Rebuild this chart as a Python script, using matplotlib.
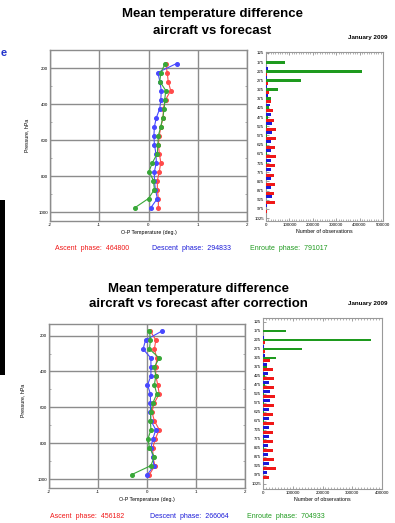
import matplotlib
matplotlib.use("Agg")
import matplotlib.pyplot as plt
from matplotlib.patches import Rectangle
from matplotlib.ticker import MultipleLocator

W, H = 395, 523

# profile levels (hPa) and bar-chart levels (hPa)
prof_levels = [175, 225, 275, 325, 375, 425, 475, 525, 575, 625, 675, 725, 775, 825, 875, 925, 975]
bar_levels = [125, 175, 225, 275, 325, 375, 425, 475, 525, 575, 625, 675, 725, 775, 825, 875, 925, 975, 1025]
bar_labels = ["125", "175", "225", "275", "325", "375", "425", "475", "525", "575",
              "625", "675", "725", "775", "825", "875", "925", "975", "1025"]

# mean O-P temperature, before correction
asc_before = [0.35, 0.38, 0.40, 0.45, 0.35, 0.30, 0.30, 0.25, 0.22, 0.20, 0.22, 0.25, 0.22, 0.18, 0.18, 0.20, 0.20]
desc_before = [0.57, 0.19, 0.23, 0.26, 0.25, 0.23, 0.16, 0.12, 0.11, 0.12, 0.15, 0.16, 0.12, 0.12, 0.14, 0.18, 0.05]
enr_before = [0.34, 0.25, 0.23, 0.35, 0.33, 0.32, 0.29, 0.25, 0.20, 0.19, 0.18, 0.08, 0.01, 0.10, 0.12, 0.00, -0.27]

# mean O-P temperature, after correction
asc_after = [0.07, 0.18, 0.15, 0.20, 0.18, 0.18, 0.22, 0.25, 0.15, 0.10, 0.15, 0.25, 0.17, 0.12, 0.12, 0.16, 0.05]
desc_after = [0.30, -0.03, -0.08, 0.08, 0.08, 0.08, 0.01, 0.07, 0.07, 0.07, 0.08, 0.18, 0.12, 0.08, 0.12, 0.14, 0.01]
enr_after = [0.05, 0.07, 0.05, 0.25, 0.15, 0.18, 0.15, 0.20, 0.12, 0.08, 0.07, 0.08, 0.02, 0.05, 0.15, 0.08, -0.31]

# number of observations per level
asc_n_before = [0, 1000, 5000, 8000, 12000, 20000, 28000, 33000, 41000, 43000, 38000, 41000, 39000, 36000, 37000, 35000, 38000, 3000, 0]
desc_n_before = [0, 500, 9000, 4000, 6000, 10000, 16000, 20000, 24000, 24000, 22000, 23000, 22000, 22000, 21000, 20000, 24000, 3000, 0]
enr_n_before = [0, 80000, 411000, 148000, 51000, 22000, 12000, 7000, 5000, 4000, 3000, 3000, 2500, 2000, 2000, 2000, 1500, 500, 0]

asc_n_after = [0, 1000, 6000, 6000, 24000, 34000, 36000, 38000, 40000, 38000, 35000, 36000, 33000, 32000, 33000, 36000, 44000, 20000, 0]
desc_n_after = [0, 500, 5000, 4000, 8000, 14000, 18000, 20000, 22000, 22000, 20000, 20000, 19000, 19000, 18000, 18000, 19000, 12000, 0]
enr_n_after = [0, 77000, 363000, 131000, 44000, 12000, 8000, 6000, 4000, 3000, 3000, 2500, 2000, 2000, 2000, 1500, 1500, 500, 0]

totals_before = ["464800", "294833", "791017"]
totals_after = ["456182", "266064", "704933"]

RED, BLUE, GREEN = "#f01818", "#1a1ad8", "#1e9a1e"
LRED, LBLUE, LGREEN = "#ff4a4a", "#4848ff", "#38a838"
GRID = "#8c8c8c"


def box(l, t, r, b):
    return [l / W, 1 - b / H, (r - l) / W, (b - t) / H]


def profile(ax, asc, desc, enr, ylim):
    for vals, c in [(asc, LRED), (desc, LBLUE), (enr, LGREEN)]:
        ax.plot(vals, prof_levels, color=c, lw=0.8, marker="o", ms=2.6, zorder=3)
    ax.set_xlim(-2, 2)
    ax.set_ylim(*ylim)
    ax.set_xticks([-2, -1, 0, 1, 2])
    ax.set_xticklabels(["-2", "-1", "0", "1", "2"])
    ax.set_yticks([200, 400, 600, 800, 1000])
    ax.yaxis.set_minor_locator(MultipleLocator(100))
    ax.grid(True, color=GRID, lw=1.0)
    ax.tick_params(labelsize=3.2, length=2, width=0.5, color=GRID, pad=1.5,
                   direction="in", right=True)
    ax.tick_params(which="minor", length=1.5, width=0.5, color=GRID, direction="in", right=True)
    ax.tick_params(axis="x", length=0)
    for s in ax.spines.values():
        s.set_color(GRID)
        s.set_linewidth(1.0)
    ax.set_xlabel("O-P Temperature (deg.)", fontsize=3.8, labelpad=2)


def counts(ax, asc, desc, enr, xmax, ylim):
    h = 16
    ax.barh([l - h for l in bar_levels], desc, height=h, color=BLUE, zorder=3)
    ax.barh(bar_levels, enr, height=h, color=GREEN, zorder=3)
    ax.barh([l + h for l in bar_levels], asc, height=h, color=RED, zorder=3)
    ax.set_xlim(0, xmax)
    ax.set_ylim(*ylim)
    ax.set_yticks(bar_levels)
    ax.set_yticklabels(bar_labels)
    ax.set_xticks(list(range(0, xmax + 1, 100000)))
    ax.xaxis.set_minor_locator(MultipleLocator(10000))
    ax.tick_params(labelsize=3.2, length=2, width=0.5, color="#777777", pad=1.5,
                   direction="in", top=True)
    ax.tick_params(which="minor", length=1.2, width=0.4, color="#777777", direction="in", top=True)
    for s in ax.spines.values():
        s.set_color("#999999")
        s.set_linewidth(0.8)
    ax.set_xlabel("Number of observations", fontsize=3.8, labelpad=1.5)


fig = plt.figure(figsize=(W / 100, H / 100), dpi=100)
plt.rcParams["font.family"] = ["Liberation Sans", "DejaVu Sans"]

# upper panel: before correction
ax1 = fig.add_axes(box(50, 50, 247, 221))
profile(ax1, asc_before, desc_before, enr_before, (1050, 100))
fig.text(27 / W, 1 - 135 / H, "Pressure, hPa", fontsize=3.8, rotation=90, ha="center", va="center")
ax2 = fig.add_axes(box(266, 52, 383, 221))
counts(ax2, asc_n_before, desc_n_before, enr_n_before, 500000, (1041, 120))

fig.text(212 / W, 1 - 14 / H, "Mean temperature difference", fontsize=9.5, weight="bold",
         ha="center", va="center")
fig.text(212 / W, 1 - 31 / H, "aircraft vs forecast", fontsize=9.5, weight="bold",
         ha="center", va="center")
fig.text(388 / W, 1 - 37 / H, "January 2009", fontsize=4.5, weight="bold", ha="right", va="center")
fig.text(55 / W, 1 - 248 / H, "Ascent  phase:  " + totals_before[0], fontsize=5, color=RED, va="center")
fig.text(152 / W, 1 - 248 / H, "Descent  phase:  " + totals_before[1], fontsize=5, color=BLUE, va="center")
fig.text(250 / W, 1 - 248 / H, "Enroute  phase:  " + totals_before[2], fontsize=5, color=GREEN, va="center")

# lower panel: after correction
ax3 = fig.add_axes(box(49, 324, 245, 488))
profile(ax3, asc_after, desc_after, enr_after, (1050, 135))
fig.text(23 / W, 1 - 400 / H, "Pressure, hPa", fontsize=3.8, rotation=90, ha="center", va="center")
ax4 = fig.add_axes(box(263, 318, 382, 489))
counts(ax4, asc_n_after, desc_n_after, enr_n_after, 400000, (1053, 103))

fig.text(199 / W, 1 - 289 / H, "Mean temperature difference", fontsize=9.5, weight="bold",
         ha="center", va="center")
fig.text(198 / W, 1 - 304 / H, "aircraft vs forecast after correction", fontsize=9.5, weight="bold",
         ha="center", va="center")
fig.text(387 / W, 1 - 303 / H, "January 2009", fontsize=4.5, weight="bold", ha="right", va="center")
fig.text(50 / W, 1 - 517 / H, "Ascent  phase:  " + totals_after[0], fontsize=5, color=RED, va="center")
fig.text(150 / W, 1 - 517 / H, "Descent  phase:  " + totals_after[1], fontsize=5, color=BLUE, va="center")
fig.text(247 / W, 1 - 517 / H, "Enroute  phase:  " + totals_after[2], fontsize=5, color=GREEN, va="center")

# slide leftovers on the left edge: link text and dark bar
fig.text(0.5 / W, 1 - 53 / H, "e", fontsize=8, color="#2233cc", va="center", ha="left", weight="bold")
fig.add_artist(Rectangle((0, 1 - 375 / H), 5 / W, 175 / H, transform=fig.transFigure,
                         color="black", lw=0))

fig.savefig("out.png", dpi=100)
